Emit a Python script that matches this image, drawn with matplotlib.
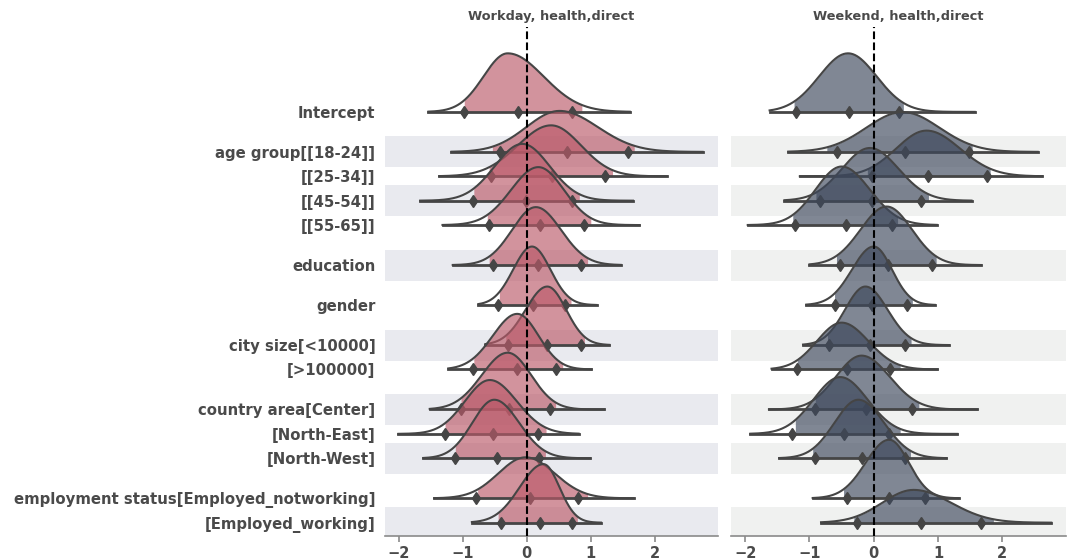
import numpy as np
import matplotlib.pyplot as plt

labels = ["Intercept", "age group[[18-24]]", "[[25-34]]", "[[45-54]]", "[[55-65]]",
          "education", "gender", "city size[<10000]", "[>100000]",
          "country area[Center]", "[North-East]", "[North-West]",
          "employment status[Employed_notworking]", "[Employed_working]"]
group_sizes = [1, 4, 1, 1, 2, 3, 2]

# Workday posterior summaries (range of draws, quantile markers, HDI, mode, relative peak)
wd_min = [-1.54, -1.18, -1.37, -1.67, -1.32, -1.16, -0.76, -0.65, -1.23, -1.52, -2.01, -1.62, -1.45, -0.86]
wd_max = [1.61, 2.75, 2.19, 1.66, 1.76, 1.47, 1.09, 1.29, 1.01, 1.21, 0.81, 0.99, 1.67, 1.16]
wd_qlo = [-0.98, -0.42, -0.56, -0.85, -0.59, -0.53, -0.45, -0.29, -0.84, -1.03, -1.28, -1.13, -0.79, -0.41]
wd_qmid = [-0.14, 0.63, 0.39, -0.02, 0.21, 0.18, 0.10, 0.32, -0.16, -0.28, -0.53, -0.47, 0.05, 0.21]
wd_qhi = [0.71, 1.59, 1.22, 0.70, 0.90, 0.85, 0.60, 0.85, 0.45, 0.36, 0.18, 0.19, 0.80, 0.71]
wd_hdi_lo = [-0.98, -0.54, -0.59, -0.83, -0.62, -0.59, -0.43, -0.33, -0.83, -1.03, -1.28, -1.12, -0.77, -0.45]
wd_hdi_hi = [0.86, 1.68, 1.34, 0.82, 1.00, 0.95, 0.69, 0.90, 0.56, 0.45, 0.30, 0.29, 0.95, 0.79]
wd_mode = [-0.30, 0.51, 0.38, -0.07, 0.18, 0.14, 0.08, 0.32, -0.15, -0.30, -0.58, -0.51, -0.02, 0.26]
wd_peak = [1.0, 0.70, 0.87, 0.97, 0.99, 0.99, 1.0, 1.0, 0.95, 0.97, 0.92, 1.0, 0.70, 1.0]

# Weekend posterior summaries
we_min = [-1.62, -1.33, -1.15, -1.39, -1.96, -1.00, -1.05, -1.10, -1.59, -1.63, -1.92, -1.47, -0.95, -0.82]
we_max = [1.57, 2.55, 2.62, 1.52, 0.98, 1.67, 0.95, 1.17, 0.99, 1.61, 1.30, 1.13, 1.32, 2.76]
we_qlo = [-1.21, -0.57, -0.03, -0.84, -1.23, -0.53, -0.61, -0.70, -1.19, -0.91, -1.27, -0.91, -0.42, -0.26]
we_qmid = [-0.38, 0.49, 0.85, -0.02, -0.43, 0.22, -0.02, -0.06, -0.41, -0.12, -0.46, -0.19, 0.24, 0.74]
we_qhi = [0.40, 1.48, 1.76, 0.74, 0.29, 0.91, 0.51, 0.49, 0.25, 0.60, 0.24, 0.48, 0.79, 1.67]
we_hdi_lo = [-1.24, -0.73, -0.10, -0.90, -1.26, -0.58, -0.61, -0.72, -1.19, -0.91, -1.22, -0.95, -0.47, -0.31]
we_hdi_hi = [0.46, 1.53, 1.81, 0.85, 0.37, 0.97, 0.60, 0.58, 0.41, 0.70, 0.41, 0.57, 0.85, 1.86]
we_mode = [-0.40, 0.45, 0.82, -0.06, -0.50, 0.20, 0.00, -0.13, -0.50, -0.19, -0.52, -0.24, 0.24, 0.62]
we_peak = [1.0, 0.68, 0.78, 0.90, 1.0, 1.0, 1.0, 1.0, 0.80, 0.92, 0.97, 1.0, 1.0, 0.56]

LINE = "#454545"
TEXT = "#4a4a4a"
OVERLAP = 2.4
Z = 1.8
GROUP_GAP = 1.64

# row baselines, top row at 0 going down
ypos = []
y = 0.0
for g, size in enumerate(group_sizes):
    if g > 0:
        y -= GROUP_GAP
    for k in range(size):
        if k > 0:
            y -= 1.0
        ypos.append(y)
ypos = np.array(ypos)


def density(x, mode, qlo, qhi):
    sd = np.where(x < mode, (mode - qlo) / Z, (qhi - mode) / Z)
    return np.exp(-0.5 * ((x - mode) / sd) ** 2)


def ridge(ax, xmin, xmax, qlo, qmid, qhi, hlo, hhi, mode, peak, color, band):
    for i, yb in enumerate(ypos):
        if i % 2 == 1:
            ax.axhspan(yb - 0.635, yb + 0.635, color=band, lw=0, zorder=0)
    for i, yb in enumerate(ypos):
        z = 2 + i * 0.1
        x = np.linspace(xmin[i], xmax[i], 400)
        top = yb + OVERLAP * peak[i] * density(x, mode[i], qlo[i], qhi[i])
        xf = np.linspace(hlo[i], hhi[i], 300)
        topf = yb + OVERLAP * peak[i] * density(xf, mode[i], qlo[i], qhi[i])
        ax.fill_between(xf, yb, topf, color=color, alpha=0.65, lw=0, zorder=z)
        ax.plot(x, top, color=LINE, lw=1.5, zorder=z + 0.01)
        ax.plot([xmin[i], xmax[i]], [yb, yb], color=LINE, lw=2, zorder=z + 0.02)
        ax.plot([qlo[i], qmid[i], qhi[i]], [yb] * 3, "d", color=LINE, ms=6, zorder=z + 0.03)
    ax.axvline(0, color="black", ls="--", lw=1.5, zorder=10)
    ax.set_xlim(-2.22, 2.99)
    ax.set_ylim(ypos[-1] - 0.545, 3.48)
    ax.set_xticks([-2, -1, 0, 1, 2])
    for s in ["left", "right", "top"]:
        ax.spines[s].set_visible(False)
    ax.spines["bottom"].set_color("#8a8a8a")
    ax.spines["bottom"].set_linewidth(1.2)
    ax.tick_params(axis="x", colors="#8a8a8a", length=4, width=1.2, labelcolor=TEXT, labelsize=10.5)
    for t in ax.get_xticklabels():
        t.set_fontweight("bold")


fig = plt.figure(figsize=(10.7, 5.6), dpi=100)
ax1 = fig.add_axes([0.3598, 0.0429, 0.3112, 0.9089])
ax2 = fig.add_axes([0.6832, 0.0429, 0.3131, 0.9089])

ridge(ax1, wd_min, wd_max, wd_qlo, wd_qmid, wd_qhi, wd_hdi_lo, wd_hdi_hi, wd_mode, wd_peak,
      "#bb5a69", "#e9eaef")
ridge(ax2, we_min, we_max, we_qlo, we_qmid, we_qhi, we_hdi_lo, we_hdi_hi, we_mode, we_peak,
      "#3c475b", "#f0f1f0")

ax1.set_yticks(ypos)
ax1.set_yticklabels(labels, fontweight="bold", fontsize=10.75, color=TEXT)
ax1.tick_params(axis="y", length=0, pad=7)
ax2.set_yticks([])

ax1.set_title("Workday, health,direct", fontweight="bold", fontsize=9.3, color=TEXT, pad=5)
ax2.set_title("Weekend, health,direct", fontweight="bold", fontsize=9.3, color=TEXT, pad=5)

fig.savefig("out.png", dpi=100)
